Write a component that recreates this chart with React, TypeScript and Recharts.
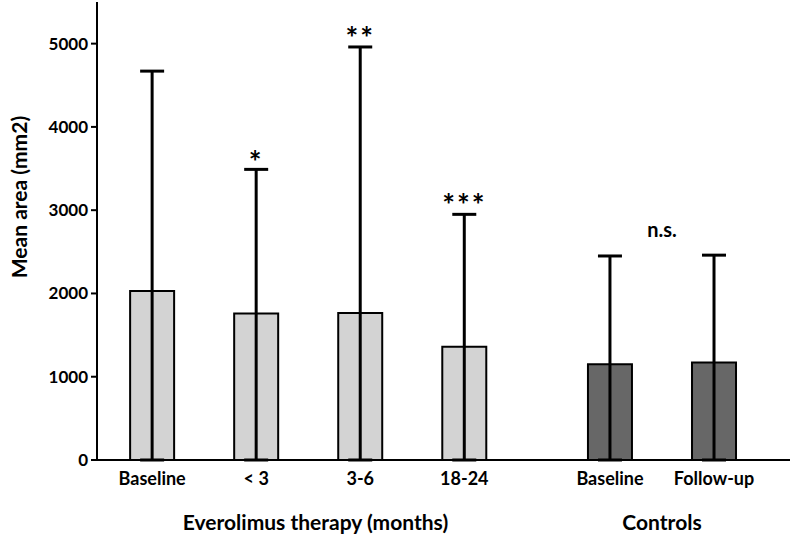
import React from "react";
import {
  Bar,
  BarChart,
  Cell,
  ErrorBar,
  Label,
  ReferenceDot,
  XAxis,
  YAxis,
} from "recharts";

// x positions leave a gap between the therapy group and the controls
const positions = [1, 2, 3, 4, 5.4, 6.4];
const categories = ["Baseline", "< 3", "3-6", "18-24", "Baseline", "Follow-up"];
const meanArea = [2030, 1760, 1765, 1360, 1150, 1170];
const sdArea = [2640, 1730, 3195, 1590, 1300, 1290];
const groups = ["therapy", "therapy", "therapy", "therapy", "control", "control"];

const groupTicks = [2.57, 5.9];
const groupLabels = ["Everolimus therapy (months)", "Controls"];

const yTicks = [0, 1000, 2000, 3000, 4000, 5000];

const significance = [
  { x: 2, text: "*" },
  { x: 3, text: "**" },
  { x: 4, text: "***" },
  { x: 5.9, text: "n.s." },
];

const FILL = { therapy: "#d3d3d3", control: "#676767" };
const FONT = "Lato, 'Open Sans', sans-serif";

const data = positions.map((pos, i) => ({
  pos,
  name: categories[i],
  mean: meanArea[i],
  // whisker runs from the axis up through the bar to mean + SD
  err: [meanArea[i], sdArea[i]],
  group: groups[i],
}));

// annotations sit above the highest whisker cap near them
const topNear = (x: number) =>
  Math.max(...data.filter((d) => Math.abs(d.pos - x) < 0.6).map((d) => d.mean + d.err[1]));

const tickLabel = (v: number) => {
  const i = positions.indexOf(v);
  return i >= 0 ? categories[i] : "";
};

const groupLabel = (v: number) => {
  const i = groupTicks.indexOf(v);
  return i >= 0 ? groupLabels[i] : "";
};

const YTitle = (props: any) => {
  const { viewBox } = props;
  const cx = 18;
  const cy = viewBox.y + viewBox.height / 2 - 34;
  return (
    <text
      x={cx}
      y={cy}
      transform={`rotate(-90 ${cx} ${cy})`}
      textAnchor="middle"
      dominantBaseline="central"
      fontFamily={FONT}
      fontWeight={700}
      fontSize={21}
      fill="#000"
    >
      Mean area (mm2)
    </text>
  );
};

const App: React.FC = () => {
  return (
    <div style={{ width: 791, height: 536, background: "#fff" }}>
      <style>{`body{margin:0}`}</style>
      <BarChart
        width={791}
        height={536}
        data={data}
        margin={{ top: 2, right: 1, bottom: 0, left: 0 }}
      >
        <XAxis
          xAxisId="cat"
          dataKey="pos"
          type="number"
          domain={[0.47, 7.13]}
          ticks={positions}
          tickFormatter={tickLabel}
          interval={0}
          height={40}
          tickLine={false}
          tickSize={6}
          tickMargin={6}
          axisLine={{ stroke: "#000", strokeWidth: 2 }}
          tick={{ fill: "#000", fontFamily: FONT, fontWeight: 700, fontSize: 18 }}
        />
        <XAxis
          xAxisId="group"
          dataKey="pos"
          type="number"
          domain={[0.47, 7.13]}
          ticks={groupTicks}
          tickFormatter={groupLabel}
          interval={0}
          height={36}
          axisLine={false}
          tickLine={false}
          tickSize={0}
          tickMargin={15}
          tick={{ fill: "#000", fontFamily: FONT, fontWeight: 700, fontSize: 21 }}
        />
        <YAxis
          width={97}
          domain={[0, 5500]}
          ticks={yTicks}
          interval={0}
          tickSize={6}
          tickMargin={3}
          axisLine={{ stroke: "#000", strokeWidth: 2 }}
          tickLine={{ stroke: "#000", strokeWidth: 2 }}
          tick={{ fill: "#000", fontFamily: FONT, fontWeight: 700, fontSize: 17 }}
        >
          <Label content={<YTitle />} />
        </YAxis>
        <Bar
          xAxisId="cat"
          dataKey="mean"
          barSize={44}
          stroke="#000"
          strokeWidth={2}
          isAnimationActive={false}
        >
          {data.map((d, i) => (
            <Cell key={`cell-${i}`} fill={FILL[d.group as keyof typeof FILL]} />
          ))}
          <ErrorBar
            dataKey="err"
            direction="y"
            width={12}
            stroke="#000"
            strokeWidth={3}
            isAnimationActive={false}
          />
        </Bar>
        {significance.map((s, i) => {
          const ns = s.text === "n.s.";
          return (
            <ReferenceDot
              key={`sig-${i}`}
              xAxisId="cat"
              x={s.x}
              y={topNear(s.x)}
              r={0}
              stroke="none"
              fill="none"
            >
              <Label
                value={s.text}
                position="top"
                offset={ns ? 18 : s.text === "*" ? -4 : -2}
                fill="#000"
                fontFamily={FONT}
                fontWeight={700}
                fontSize={ns ? 20 : 30}
                letterSpacing={ns ? 0 : 2}
              />
            </ReferenceDot>
          );
        })}
      </BarChart>
    </div>
  );
};

export default App;
